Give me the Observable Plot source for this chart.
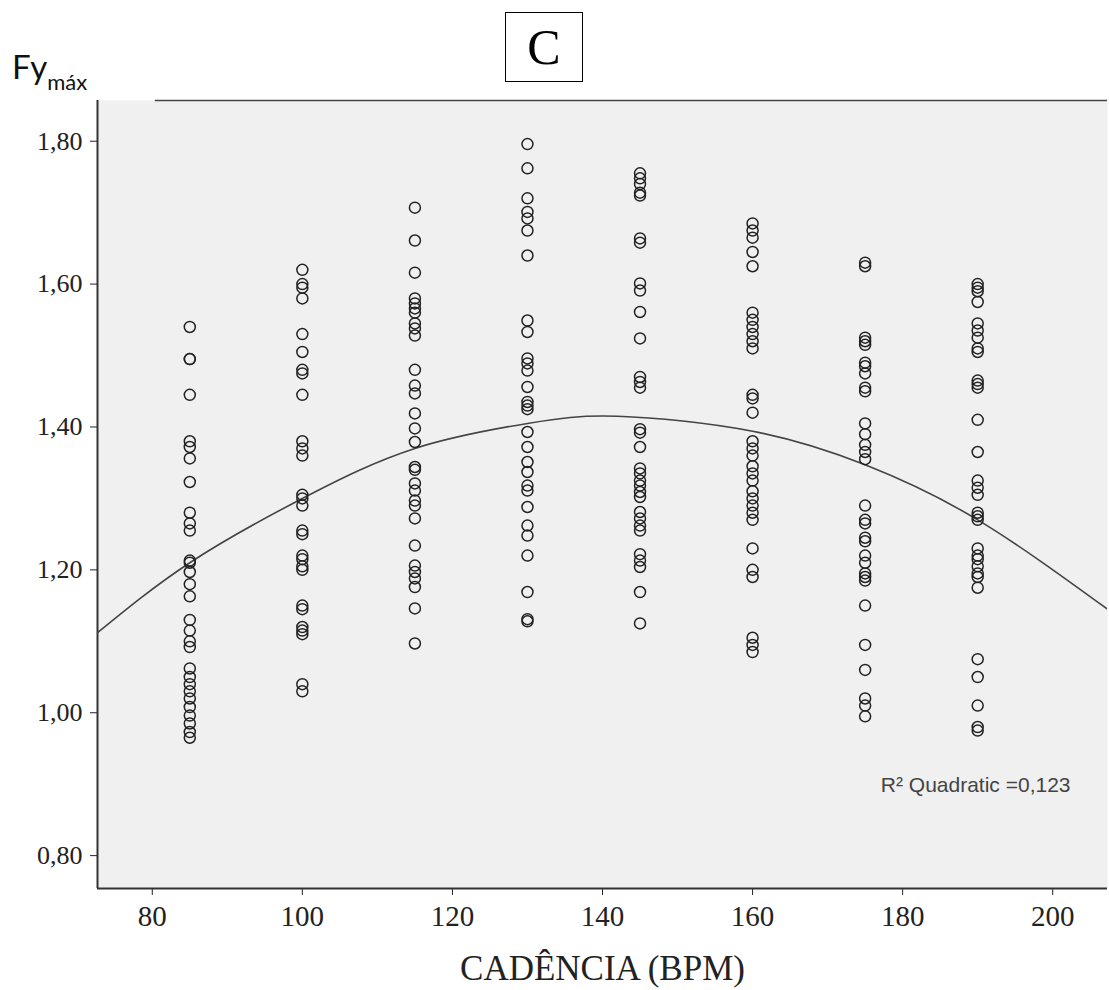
<!DOCTYPE html>
<html>
<head>
<meta charset="utf-8">
<script src="https://cdn.jsdelivr.net/npm/d3@7"></script>
<script src="https://cdn.jsdelivr.net/npm/@observablehq/plot@0.6"></script>
<style>
  body { margin: 0; background: #fff; }
  #wrap { position: relative; width: 1109px; height: 990px; overflow: hidden; }
  #wrap svg { position: absolute; left: 0; top: 0; }
  #fy { position: absolute; left: 12px; top: 46px; font-family: Lato, "Open Sans", sans-serif; font-size: 33px; color: #111; white-space: nowrap; }
  #fy span { font-size: 22px; position: relative; top: 11px; }
  #cbox { position: absolute; left: 505px; top: 12px; width: 76px; height: 68px; border: 1.5px solid #000;
          font-family: "Liberation Serif", serif; font-size: 50px; display: flex; align-items: center; justify-content: center; color: #000; }
</style>
</head>
<body>
<div id="wrap">
  <div id="fy">Fy<span>máx</span></div>
  <div id="cbox">C</div>
</div>
<script>
// Cadence groups (BPM)
const cadences = [85, 100, 115, 130, 145, 160, 175, 190];

// Fy max values per cadence group
const fy85 = [1.54, 1.495, 1.495, 1.445, 1.38, 1.372, 1.356, 1.323, 1.28, 1.265, 1.255, 1.213, 1.21, 1.197, 1.18, 1.163, 1.13, 1.115, 1.10, 1.092, 1.062, 1.05, 1.04, 1.03, 1.02, 1.008, 0.996, 0.985, 0.973, 0.965];
const fy100 = [1.62, 1.60, 1.595, 1.58, 1.53, 1.505, 1.48, 1.475, 1.445, 1.38, 1.37, 1.36, 1.305, 1.30, 1.29, 1.255, 1.25, 1.22, 1.215, 1.205, 1.20, 1.15, 1.145, 1.12, 1.115, 1.11, 1.04, 1.03];
const fy115 = [1.707, 1.661, 1.616, 1.58, 1.573, 1.566, 1.56, 1.545, 1.538, 1.528, 1.48, 1.458, 1.447, 1.419, 1.398, 1.379, 1.344, 1.34, 1.321, 1.311, 1.297, 1.29, 1.272, 1.234, 1.206, 1.197, 1.188, 1.176, 1.146, 1.097];
const fy130 = [1.796, 1.762, 1.72, 1.701, 1.692, 1.675, 1.64, 1.549, 1.533, 1.496, 1.489, 1.479, 1.456, 1.435, 1.43, 1.425, 1.393, 1.372, 1.351, 1.337, 1.318, 1.311, 1.288, 1.262, 1.248, 1.22, 1.169, 1.131, 1.128];
const fy145 = [1.755, 1.748, 1.74, 1.728, 1.724, 1.664, 1.658, 1.601, 1.591, 1.561, 1.524, 1.47, 1.463, 1.455, 1.397, 1.392, 1.372, 1.342, 1.335, 1.325, 1.318, 1.309, 1.302, 1.281, 1.272, 1.262, 1.255, 1.222, 1.213, 1.204, 1.169, 1.125];
const fy160 = [1.685, 1.675, 1.665, 1.645, 1.625, 1.56, 1.55, 1.54, 1.53, 1.52, 1.51, 1.445, 1.44, 1.42, 1.38, 1.37, 1.36, 1.345, 1.335, 1.325, 1.31, 1.30, 1.29, 1.28, 1.27, 1.23, 1.20, 1.19, 1.105, 1.095, 1.085];
const fy175 = [1.63, 1.625, 1.525, 1.52, 1.515, 1.49, 1.485, 1.475, 1.455, 1.45, 1.405, 1.39, 1.375, 1.365, 1.355, 1.29, 1.27, 1.265, 1.245, 1.24, 1.22, 1.21, 1.195, 1.19, 1.185, 1.15, 1.095, 1.06, 1.02, 1.01, 0.995];
const fy190 = [1.60, 1.595, 1.59, 1.575, 1.545, 1.535, 1.525, 1.51, 1.505, 1.465, 1.46, 1.455, 1.41, 1.365, 1.325, 1.315, 1.305, 1.28, 1.275, 1.27, 1.23, 1.22, 1.215, 1.205, 1.195, 1.19, 1.175, 1.075, 1.05, 1.01, 0.98, 0.975];

// Quadratic fit line
const curveX = [72.7, 85, 100, 115, 130, 142, 160, 175, 190, 207.3];
const curveY = [1.112, 1.21, 1.30, 1.37, 1.405, 1.415, 1.394, 1.347, 1.27, 1.145];

// Ticks
const xTicks = [80, 100, 120, 140, 160, 180, 200];
const yTicks = [0.8, 1.0, 1.2, 1.4, 1.6, 1.8];

const xDomain = [72.7, 207.3];
const yDomain = [0.754, 1.857];

const groups = [fy85, fy100, fy115, fy130, fy145, fy160, fy175, fy190];
const rows = cadences.flatMap((c, i) => groups[i].map(v => ({cad: c, fy: v})));
const curve = curveX.map((x, i) => ({x, y: curveY[i]}));

const chart = Plot.plot({
  width: 1109,
  height: 990,
  marginLeft: 97,
  marginRight: 2,
  marginTop: 100,
  marginBottom: 102,
  style: {background: "transparent", fontFamily: "'Liberation Serif', serif", fontSize: "26px", color: "#222"},
  x: {domain: xDomain},
  y: {domain: yDomain},
  marks: [
    Plot.frame({fill: "#f0f0f0", stroke: "none"}),
    Plot.axisX({ticks: xTicks, tickFormat: d => String(d), tickSize: 7, tickPadding: 10, fontSize: 29, label: null}),
    Plot.axisY({ticks: yTicks, tickFormat: d => d.toFixed(2).replace(".", ","), tickSize: 7, tickPadding: 8, fontSize: 26, label: null}),
    Plot.ruleY([yDomain[1]], {x1: 80.4, x2: xDomain[1], stroke: "#444", strokeWidth: 1.5}),
    Plot.ruleX([xDomain[0]], {stroke: "#333", strokeWidth: 2}),
    Plot.ruleY([yDomain[0]], {stroke: "#333", strokeWidth: 2}),
    Plot.line(curve, {x: "x", y: "y", curve: "natural", stroke: "#444", strokeWidth: 1.6, clip: true}),
    Plot.dot(rows, {x: "cad", y: "fy", r: 5.5, stroke: "#222", strokeWidth: 1.5, fill: "none"}),
    Plot.text(["R² Quadratic =0,123"], {frameAnchor: "bottom-right", dx: -37, dy: -103, textAnchor: "end", lineAnchor: "middle", fontFamily: "'Liberation Sans', Arial, sans-serif", fontSize: 21, fill: "#444"}),
    Plot.text(["CADÊNCIA (BPM)"], {frameAnchor: "bottom", dy: 80, lineAnchor: "middle", fontSize: 35, fill: "#222"})
  ]
});
document.getElementById("wrap").appendChild(chart);
</script>
</body>
</html>
